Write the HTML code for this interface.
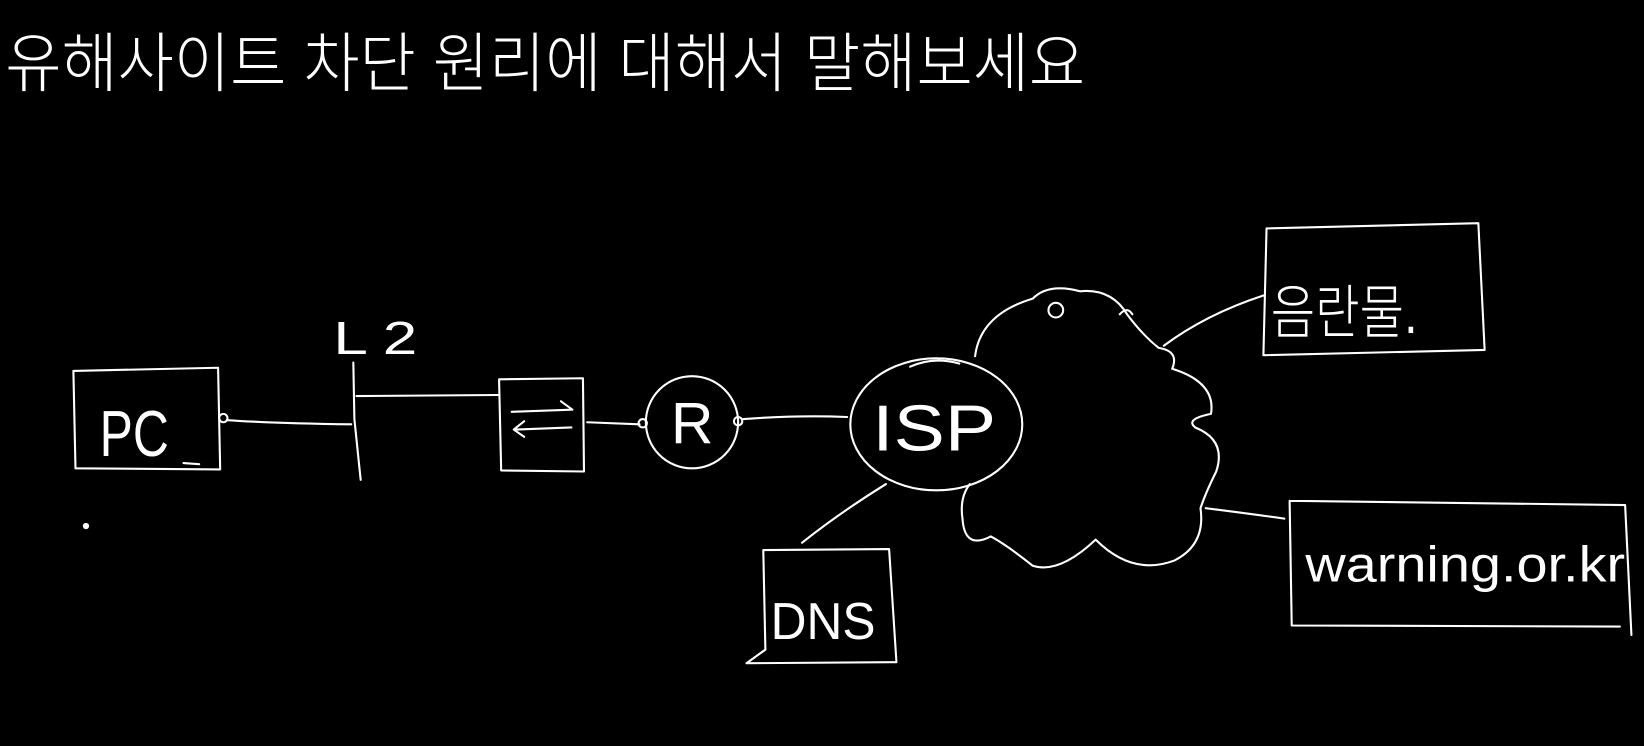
<!DOCTYPE html>
<html><head><meta charset="utf-8">
<style>
html,body{margin:0;padding:0;background:#000;}
svg{display:block;}
text{fill:#fff;font-family:"Liberation Sans","Noto Sans CJK KR",sans-serif;font-weight:300;}
</style></head>
<body>
<svg width="1644" height="746" viewBox="0 0 1568 712" preserveAspectRatio="none" xmlns="http://www.w3.org/2000/svg">
<rect width="1568" height="712" fill="#000"/>
<g stroke="#fff" stroke-width="2" fill="none" stroke-linecap="round" stroke-linejoin="round">
 <!-- PC box -->
 <path d="M70 354 L208 351 L210 448 L72 447 Z"/>
 <path d="M175 442 L190 443"/>
 <circle cx="213" cy="399" r="4"/>
 <path d="M217 401 Q260 404 335 405"/>
 <!-- L2 -->
 <path d="M337 346 L338 400 L344 458"/>
 <path d="M340 378 L475 377"/>
 <!-- switch -->
 <path d="M476 362 L556 361 L557 450 L478 449 Z"/>
 <path d="M488 393 L545 391 M535 383 L546 391 M545 408 L492 410 M500 402 L490 410 L500 417"/>
 <path d="M560 403 L610 405"/>
 <circle cx="613" cy="404" r="4"/>
 <!-- R -->
 <circle cx="660" cy="403" r="44"/>
 <circle cx="704" cy="402" r="4"/>
 <path d="M709 400 Q760 396 808 398"/>
 <!-- ISP -->
 <ellipse cx="893" cy="405" rx="82" ry="63"/>
 <path d="M868 350 Q890 340 915 347"/>
 <!-- cloud -->
 <path d="M930 340 Q935 300 985 285 Q1000 270 1030 278 Q1060 275 1075 300 Q1090 320 1105 332 Q1125 335 1118 352 Q1160 365 1155 395 Q1130 400 1140 408 Q1170 420 1160 450 Q1150 470 1145 485 Q1150 520 1120 535 Q1080 550 1045 515 Q1010 548 985 540 Q960 520 945 512 Q920 525 918 495 Q915 475 925 462"/>
 <circle cx="1007" cy="296" r="7"/>
 <path d="M1068 300 Q1075 292 1080 300"/>
 <!-- DNS -->
 <path d="M765 518 Q800 490 845 462"/>
 <path d="M728 525 L848 524 L855 632 M728 525 L730 620 L712 633 L855 632"/>
 <!-- top right box -->
 <path d="M1110 330 Q1150 300 1205 282"/>
 <path d="M1208 218 L1410 213 L1416 334 L1205 339 Z"/>
 <!-- bottom right box -->
 <path d="M1150 485 Q1190 490 1225 495"/>
 <path d="M1230 478 L1550 482 L1556 606 M1230 478 L1232 597 L1545 598"/>
</g>
<circle cx="82" cy="502" r="3" fill="#fff"/>
<text x="5" y="82" font-size="62" textLength="1030" lengthAdjust="spacingAndGlyphs">유해사이트  차단 원리에 대해서  말해보세요</text>
<text x="95" y="435" font-size="62" textLength="66" lengthAdjust="spacingAndGlyphs">PC</text>
<text x="318" y="338" font-size="44" textLength="80" lengthAdjust="spacingAndGlyphs">L 2</text>
<text x="640" y="423" font-size="56">R</text>
<text x="832" y="430" font-size="62" textLength="118" lengthAdjust="spacingAndGlyphs">ISP</text>
<text x="735" y="610" font-size="50" textLength="100" lengthAdjust="spacingAndGlyphs">DNS</text>
<text x="1212" y="318" font-size="56" textLength="140" lengthAdjust="spacingAndGlyphs">음란물.</text>
<text x="1245" y="555" font-size="48" textLength="305" lengthAdjust="spacingAndGlyphs">warning.or.kr</text>
</svg>
</body></html>
